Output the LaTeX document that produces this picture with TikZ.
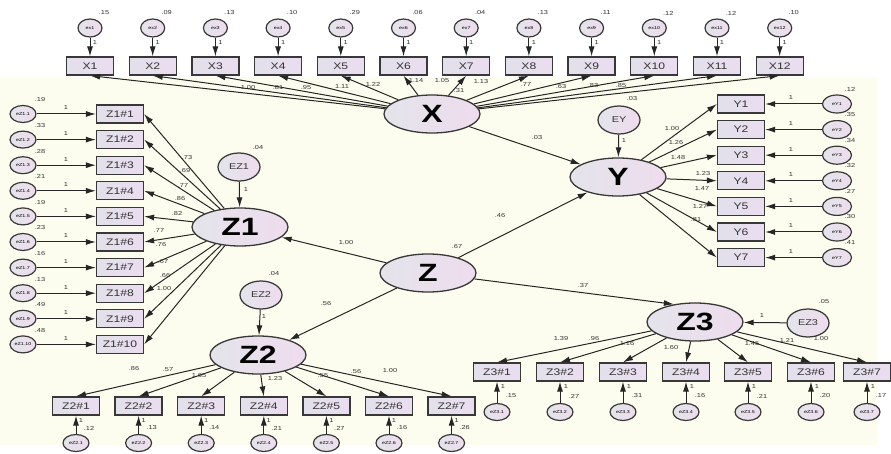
\documentclass[tikz,border=0pt]{standalone}
\usepackage{fontspec}
\setmainfont{Liberation Sans}[FakeStretch=1.28]
\usetikzlibrary{arrows.meta,shapes.geometric}
\definecolor{cream}{HTML}{FDFDEF}
\definecolor{edge}{HTML}{383838}
\definecolor{fillL}{HTML}{E4E4EA}
\definecolor{fillR}{HTML}{EEDCEE}
\definecolor{boxL}{HTML}{E2E0EA}
\definecolor{boxR}{HTML}{EBDDF0}
\tikzset{
  obs/.style={rectangle, draw=edge, line width=1.25pt, left color=boxL, right color=boxR,
    minimum width=47pt, minimum height=18pt, inner sep=0pt, font=\fontsize{9.5}{9.5}\selectfont, text=black!80},
  lat/.style={ellipse, draw=edge, line width=1.3pt, left color=fillL, right color=fillR,
    minimum width=96pt, minimum height=38pt, inner sep=0pt, font=\fontsize{25}{25}\selectfont\bfseries},
  errc/.style={ellipse, draw=edge, line width=1.2pt, left color=fillL, right color=fillR,
    minimum width=26pt, minimum height=17pt, inner sep=0pt, font=\fontsize{4.2}{4.2}\selectfont},
  dist/.style={ellipse, draw=edge, line width=1.25pt, left color=fillL, right color=fillR,
    minimum width=42pt, minimum height=28pt, inner sep=0pt, font=\fontsize{8.5}{8.5}\selectfont, text=black!80},
  lab/.style={inner sep=0pt, font=\fontsize{5.8}{5.8}\selectfont, text=black!80},
  arr/.style={draw=black!85, line width=1pt, -{Latex[length=10pt,width=6pt]}},
}
\begin{document}
\begin{tikzpicture}[x=1pt,y=-1pt]
\useasboundingbox (0,0) rectangle (891,454);
\fill[white] (0,0) rectangle (891,454);
\fill[cream] (0,77) rectangle (877,445);

% ---------- latent variables ----------
\node[lat] (X)  at (432,114) {X};
\node[lat] (Y)  at (618,177) {Y};
\node[lat] (Z1) at (240,227) {Z1};
\node[lat] (Z)  at (428,273) {Z};
\node[lat] (Z2) at (258,355) {Z2};
\node[lat] (Z3) at (695,322) {Z3};

% disturbances
\node[dist] (EZ1) at (239,167) {EZ1};
\node[dist] (EY)  at (619,120) {EY};
\node[dist] (EZ2) at (261,295) {EZ2};
\node[dist] (EZ3) at (808,323) {EZ3};
\draw[arr] (EZ1) -- (Z1);
\draw[arr] (EY) -- (Y);
\draw[arr] (EZ2) -- (Z2);
\draw[arr] (EZ3) -- (Z3);
\node[lab] at (258,148) {.04};
\node[lab] at (632,99)  {.03};
\node[lab] at (274,274) {.04};
\node[lab] at (824,302) {.05};
\node[lab] at (246,190) {1};
\node[lab] at (624,141) {1};
\node[lab] at (264,317) {1};
\node[lab] at (762,316) {1};

% structural paths
\draw[arr] (Z) -- (Z1);
\draw[arr] (Z) -- (Y);
\draw[arr] (Z) -- (Z2);
\draw[arr] (Z) -- (Z3.140);
\draw[arr] (X) -- (Y);
\node[lab] at (346,243) {1.00};
\node[lab] at (500,216) {.46};
\node[lab] at (457,247) {.67};
\node[lab] at (583,286) {.37};
\node[lab] at (326,304) {.56};
\node[lab] at (537,138) {.03};

% ---------- X indicators ----------
\foreach \i/\v in {1/.15,2/.09,3/.13,4/.10,5/.29,6/.06,7/.04,8/.13,9/.11,10/.12,11/.12,12/.10}{
  \pgfmathsetmacro\xx{90+62.7*(\i-1)}
  \node[obs]  (X\i)  at (\xx,66) {X\i};
  \node[errc, minimum width=24pt, minimum height=18pt] (ex\i) at (\xx,28) {ex\i};
  \draw[arr] (ex\i) -- (X\i);
  \draw[arr] (X) -- (X\i.south);
  \node[lab] at (\xx+5,43) {1};
  \node[lab] at (\xx+14,13) {\v};
}
\foreach \px/\py/\t in {248/88/1.00,278/88/.81,306/88/.95,342/87/1.11,373/84/1.22,416/81/1.14,
  442/81/1.05,481/82/1.13,526/85/.77,561/87/.63,593/86/.83,621/86/.85}{
  \node[lab] at (\px,\py) {\t};
}
\node[lab] at (459,91) {.31};

% ---------- Z1 indicators ----------
\foreach \i/\v in {1/.19,2/.33,3/.28,4/.21,5/.19,6/.23,7/.16,8/.13,9/.49,10/.48}{
  \pgfmathsetmacro\yy{114+25.6*(\i-1)}
  \node[obs]  (zob\i) at (120,\yy) {Z1\#\i};
  \node[errc] (zoe\i) at (23,\yy) {eZ1.\i};
  \draw[arr] (zoe\i) -- (zob\i);
  \draw[arr] (Z1) -- (zob\i.east);
  \node[lab] at (66,\yy-6) {1};
  \node[lab] at (40,\yy-14) {\v};
}
\foreach \px/\py/\t in {187/158/.73,185/171/.69,183/186/.77,180/199/.86,177/214/.82,
  159/231/.77,161/245/.76,163/262/.67,165/276/.66,164/289/1.00}{
  \node[lab] at (\px,\py) {\t};
}

% ---------- Y indicators ----------
\foreach \i/\v in {1/.12,2/.35,3/.34,4/.32,5/.27,6/.30,7/.41}{
  \pgfmathsetmacro\yy{104+25.6*(\i-1)}
  \node[obs]  (yb\i) at (741,\yy) {Y\i};
  \node[errc, minimum width=29pt, minimum height=18pt] (ye\i) at (837,\yy) {eY\i};
  \draw[arr] (ye\i) -- (yb\i.east);
  \draw[arr] (Y) -- (yb\i.west);
  \node[lab] at (791,\yy-6) {1};
  \node[lab] at (850,\yy-15) {\v};
}
\foreach \px/\py/\t in {672/129/1.00,676/143/1.26,678/158/1.48,703/174/1.23,702/189/1.47,
  700/206/1.27,696/220/.81}{
  \node[lab] at (\px,\py) {\t};
}

% ---------- Z2 indicators ----------
\foreach \i/\v in {1/.12,2/.13,3/.14,4/.21,5/.27,6/.16,7/.26}{
  \pgfmathsetmacro\xx{76+62.6*(\i-1)}
  \node[obs]  (ztb\i) at (\xx,406) {Z2\#\i};
  \node[errc] (zte\i) at (\xx,443) {eZ2.\i};
  \draw[arr] (zte\i) -- (ztb\i.south);
  \draw[arr] (Z2) -- (ztb\i.north);
  \node[lab] at (\xx+5,421) {1};
  \node[lab] at (\xx+13,428) {\v};
}
\foreach \px/\py/\t in {134/369/.86,168/370/.57,199/376/1.65,275/379/1.23,323/376/.55,
  356/372/.56,390/371/1.00}{
  \node[lab] at (\px,\py) {\t};
}

% ---------- Z3 indicators ----------
\foreach \i/\xx/\v in {1/497/.15,2/560/.27,3/623/.31,4/686/.16,5/748/.21,6/811/.20,7/867/.17}{
  \node[obs]  (zhb\i) at (\xx,372) {Z3\#\i};
  \node[errc] (zhe\i) at (\xx,412) {eZ3.\i};
  \draw[arr] (zhe\i) -- (zhb\i.south);
  \draw[arr] (Z3) -- (zhb\i.north);
  \node[lab] at (\xx+6,387) {1};
  \node[lab] at (\xx+14,396) {\v};
}
\foreach \px/\py/\t in {561/339/1.39,594/339/.96,627/344/1.16,671/348/1.60,752/344/1.45,
  787/340/1.21,821/339/1.00}{
  \node[lab] at (\px,\py) {\t};
}
\end{tikzpicture}
\end{document}
